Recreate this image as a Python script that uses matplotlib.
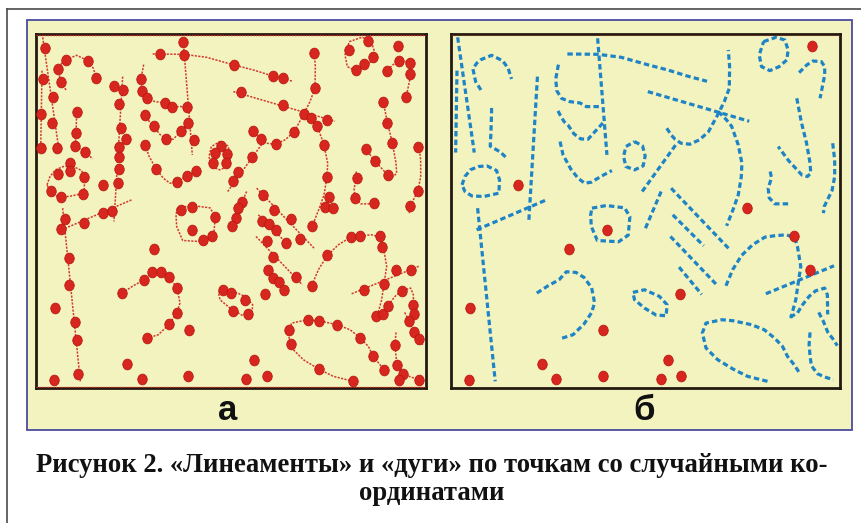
import matplotlib
matplotlib.use("Agg")
import matplotlib.pyplot as plt
from matplotlib.patches import Rectangle
from matplotlib.path import Path

# Field coordinates of the traced structures (x to the right, y downward).
FIELD_X = (108, 1278)
FIELD_Y = (1165, 102)

# (polyline, closed?) for every "lineament" / "arc"
curves = [
    ([(128, 112), (178, 458)], False),
    ([(126, 212), (122, 458)], False),
    ([(198, 270), (182, 245), (174, 207), (185, 190), (198, 179), (230, 166),
      (263, 182), (280, 205), (290, 237)], False),
    ([(230, 324), (230, 337), (228, 400), (226, 439), (256, 456), (278, 477)], False),
    ([(141, 555), (150, 530), (166, 510), (190, 500), (216, 498), (245, 512),
      (254, 540), (252, 580), (206, 590), (170, 588), (150, 575)], True),
    ([(368, 230), (342, 665)], False),
    ([(185, 690), (395, 600)], False),
    ([(188, 625), (241, 1145)], False),
    ([(431, 194), (423, 237), (426, 272), (440, 295), (465, 305), (496, 309),
      (515, 320), (560, 320)], False),
    ([(549, 115), (577, 465)], False),
    ([(458, 162), (551, 163), (620, 172), (702, 195), (760, 210), (818, 228),
      (878, 244)], False),
    ([(430, 333), (436, 345), (448, 365), (461, 377), (478, 402), (498, 417),
      (520, 418), (542, 394), (566, 368)], False),
    ([(436, 425), (445, 465), (468, 507), (490, 535), (510, 550), (530, 547),
      (560, 529), (592, 512)], False),
    ([(660, 425), (684, 438), (692, 468), (686, 498), (660, 510), (634, 500),
      (627, 470), (634, 440)], True),
    ([(532, 625), (575, 617), (630, 624), (646, 650), (641, 706), (612, 726),
      (548, 722), (530, 680), (528, 645)], True),
    ([(683, 575), (786, 432)], False),
    ([(757, 385), (770, 405), (782, 418), (800, 430), (826, 433), (855, 420),
      (882, 396), (910, 345), (930, 305), (945, 265), (946, 200), (942, 150)], False),
    ([(700, 275), (1005, 364)], False),
    ([(912, 335), (935, 358), (952, 379), (972, 435), (983, 490), (981, 532),
      (972, 585), (958, 625), (937, 678)], False),
    ([(1048, 125), (1085, 112), (1112, 120), (1122, 150), (1118, 180),
      (1095, 200), (1067, 212), (1042, 200), (1035, 165)], True),
    ([(1155, 218), (1178, 195), (1197, 183), (1222, 185), (1232, 200),
      (1232, 225), (1225, 260), (1218, 295)], False),
    ([(1148, 295), (1162, 368), (1177, 428), (1188, 490), (1190, 520),
      (1180, 530), (1164, 526), (1124, 483), (1092, 440)], False),
    ([(1256, 430), (1262, 480), (1262, 530), (1254, 572), (1231, 619),
      (1228, 640)], False),
    ([(1068, 515), (1072, 534), (1062, 565), (1065, 594), (1082, 612),
      (1123, 612)], False),
    ([(770, 565), (945, 748)], False),
    ([(775, 645), (868, 738)], False),
    ([(768, 710), (907, 855)], False),
    ([(794, 802), (862, 884)], False),
    ([(740, 575), (690, 692)], False),
    ([(935, 858), (955, 810), (982, 767), (1015, 735), (1052, 712), (1080, 708),
      (1115, 705), (1141, 712), (1150, 740), (1160, 800), (1152, 852),
      (1145, 900), (1130, 955)], False),
    ([(1055, 882), (1260, 798)], False),
    ([(1128, 952), (1150, 940), (1163, 918), (1185, 890), (1205, 873),
      (1232, 865), (1240, 885), (1241, 944)], False),
    ([(1214, 938), (1228, 965), (1241, 997), (1257, 1018), (1270, 1038)], False),
    ([(1188, 998), (1185, 1035), (1188, 1070), (1192, 1098), (1210, 1122),
      (1232, 1132), (1258, 1140)], False),
    ([(1060, 1145), (1000, 1130), (956, 1108), (910, 1080), (875, 1045),
      (864, 1000), (875, 970), (923, 960), (956, 963), (1012, 975), (1050, 990),
      (1081, 1015), (1105, 1040), (1120, 1070), (1140, 1095), (1155, 1118)], False),
    ([(366, 880), (400, 858), (433, 840), (455, 816), (484, 818), (508, 833),
      (531, 864), (540, 910), (530, 940), (508, 973), (475, 1005), (440, 1016)], False),
    ([(655, 878), (690, 870), (735, 890), (758, 915), (755, 948), (725, 946),
      (690, 925), (660, 900)], True),
]

# points that the traced lines were drawn through
curve_dots = [
    (135, 143), (158, 290), (157, 370), (172, 443),
    (130, 237), (123, 343), (122, 443),
    (182, 245), (174, 207), (198, 179), (263, 182), (288, 235),
    (230, 337), (228, 400), (226, 439), (256, 456),
    (210, 489), (175, 522), (210, 514), (251, 532), (153, 572), (184, 590), (249, 582),
    (341, 257), (369, 269), (357, 311), (364, 385), (378, 417), (358, 440),
    (356, 470), (356, 508), (353, 550),
    (253, 670), (310, 640), (336, 632),
    (195, 658), (184, 688), (206, 775), (207, 855), (224, 966), (231, 1022), (235, 1124),
    (423, 237), (426, 272), (440, 295), (496, 309), (515, 320), (560, 320),
    (550, 127), (551, 164), (565, 370), (581, 420),
    (481, 163), (702, 195), (818, 228), (848, 234),
    (436, 345), (461, 377), (498, 417), (542, 394),
    (436, 435), (468, 507), (530, 547), (560, 529), (589, 514),
    (664, 437), (644, 458), (680, 462), (640, 490), (679, 490),
    (542, 630), (575, 622), (645, 652), (636, 708), (610, 722),
    (700, 542), (715, 517), (755, 470),
    (760, 393), (782, 418), (827, 433), (882, 396), (911, 342), (946, 265), (943, 160),
    (724, 276), (850, 314), (934, 354), (980, 360),
    (952, 379), (973, 435), (981, 532), (986, 592), (975, 620), (937, 678),
    (1105, 124), (1047, 150), (1120, 172), (1092, 192), (1067, 209),
    (1160, 212), (1197, 183), (1229, 190), (1230, 221), (1217, 292),
    (1150, 307), (1162, 368), (1177, 428), (1164, 526), (1124, 483), (1098, 446),
    (1254, 441), (1254, 572), (1231, 619),
    (1072, 534), (1065, 594), (1123, 610),
    (790, 584), (822, 630), (873, 658), (900, 718),
    (785, 665), (808, 672), (828, 690), (857, 730),
    (800, 725), (820, 773), (887, 833),
    (803, 812), (818, 836), (837, 848), (853, 871),
    (727, 605), (715, 625), (708, 655), (695, 680),
    (936, 858), (981, 767), (1052, 712), (1079, 710), (1147, 743), (1152, 852),
    (1091, 871), (1233, 812),
    (1128, 950), (1149, 942), (1163, 918), (1205, 873), (1239, 916), (1241, 944),
    (1228, 965), (1241, 997), (1257, 1018),
    (1185, 1035), (1192, 1095), (1210, 1122), (1198, 1142), (1257, 1140),
    (868, 990), (872, 1032), (923, 960), (956, 963), (1012, 975), (1081, 1015),
    (1120, 1070), (1152, 1112), (1060, 1145), (956, 1108),
    (366, 880), (433, 840), (455, 816), (484, 818), (508, 833), (531, 864),
    (530, 940), (508, 973), (440, 1016),
    (668, 871), (694, 880), (735, 900), (700, 935), (745, 943),
]

# points left over, not on any line
lone_dots = [
    (1195, 138), (309, 555), (999, 625), (577, 690), (462, 747), (1141, 710),
    (1188, 812), (796, 882), (166, 925), (566, 990), (382, 1092), (762, 1080),
    (162, 1142), (425, 1138), (564, 1128), (739, 1138), (800, 1128),
]

panel_labels = ["а", "б"]
caption = ["Рисунок 2. «Линеаменты» и «дуги» по точкам со случайными ко-",
           "ординатами"]

W, H = 861, 523
PAPER = "#F3F3BF"
RED = "#D7261E"
BLUE = "#1E84C6"

circ = Path.unit_circle()
dot_marker = Path(circ.vertices * [0.88, 1.0], circ.codes)

fig = plt.figure(figsize=(W / 100, H / 100), dpi=100)

# page-level drawing in pixel units
bg = fig.add_axes([0, 0, 1, 1])
bg.set_xlim(0, W)
bg.set_ylim(H, 0)
bg.axis("off")
bg.plot([7, W], [9, 9], color="#4a4a4a", lw=1.2)
bg.plot([7, 7], [9, H], color="#4a4a4a", lw=1.2)
bg.add_patch(Rectangle((27, 20), 825, 410, fc=PAPER, ec="#4B4B9E", lw=1.3))
for lab, xc in zip(panel_labels, [228, 644]):
    bg.text(xc, 411, lab, ha="center", va="center", fontsize=25,
            fontweight="bold", family="Liberation Sans", color="#111111")
for line, yc in zip(caption, [465, 493]):
    bg.text(432, yc, line, ha="center", va="center", fontsize=19.2,
            fontweight="bold", family="Liberation Serif", color="#111111")


def panel(x0, x1):
    ax = fig.add_axes([x0 / W, 1 - 388 / H, (x1 - x0) / W, (388 - 34) / H])
    ax.set_facecolor(PAPER)
    ax.set_xlim(*FIELD_X)
    ax.set_ylim(*FIELD_Y)
    ax.set_xticks([])
    ax.set_yticks([])
    for sp in ax.spines.values():
        sp.set_color("#241910")
        sp.set_linewidth(2.0)
    return ax


def closed_path(pts, closed):
    xs = [p[0] for p in pts]
    ys = [p[1] for p in pts]
    if closed:
        xs.append(xs[0])
        ys.append(ys[0])
    return xs, ys


# а: points with the dotted traces through them
ax_a = panel(36, 426)
for y in (104.5, 1162):
    ax_a.plot(FIELD_X, [y, y], color=RED, lw=1.0, ls=(0, (1, 1)), zorder=3)
for pts, closed in curves:
    xs, ys = closed_path(pts, closed)
    ax_a.plot(xs, ys, color="#D23A2E", lw=1.1, ls=(0, (1.4, 0.9)), zorder=2)
dots = curve_dots + lone_dots
ax_a.plot([p[0] for p in dots], [p[1] for p in dots], ls="none",
          marker=dot_marker, ms=7.8, mfc=RED, mec="#B5140F", mew=0.5, zorder=4)

# б: the same traces alone, only unused points kept
ax_b = panel(451, 840)
ax_b.plot(FIELD_X, [104.5, 104.5], color="#7a3a20", lw=0.8, ls=(0, (1, 1)), zorder=3)
for pts, closed in curves:
    xs, ys = closed_path(pts, closed)
    ax_b.plot(xs, ys, color=BLUE, lw=2.3, ls=(0, (1.7, 1.0)), zorder=2)
ax_b.plot([p[0] for p in lone_dots], [p[1] for p in lone_dots], ls="none",
          marker=dot_marker, ms=7.8, mfc=RED, mec="#B5140F", mew=0.5, zorder=4)

fig.savefig("out.png", dpi=100)
